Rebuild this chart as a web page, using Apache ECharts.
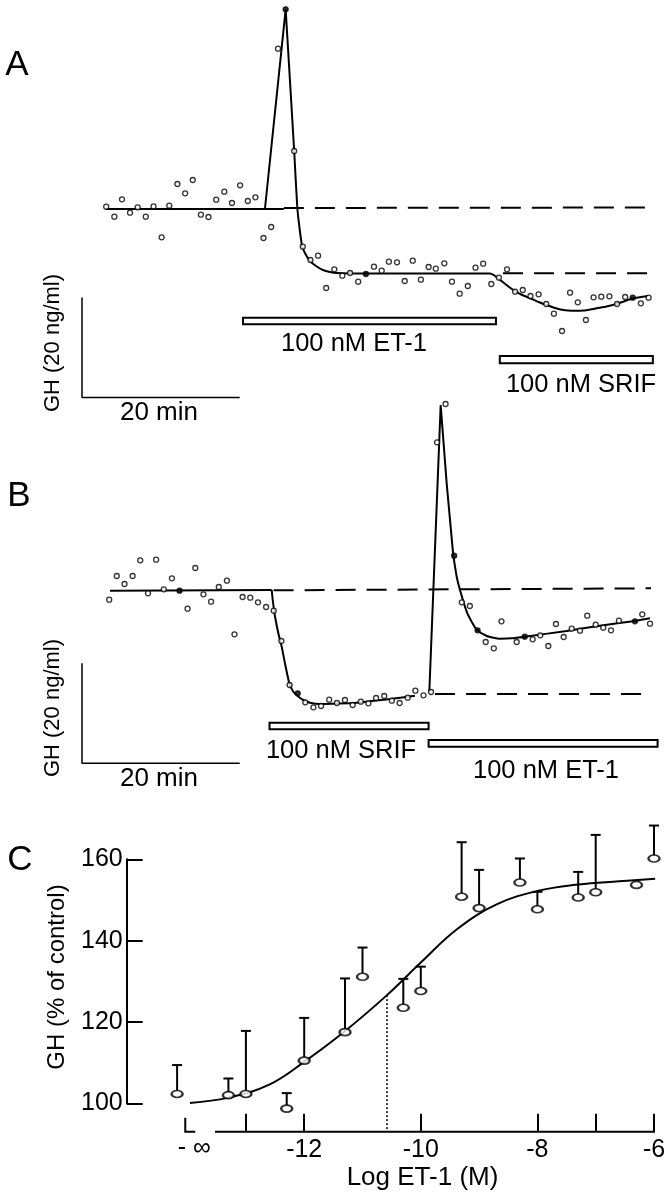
<!DOCTYPE html>
<html><head><meta charset="utf-8">
<script src="https://cdn.jsdelivr.net/npm/echarts@6/dist/echarts.min.js"></script>
<style>html,body{margin:0;padding:0;background:#fff}#main{width:668px;height:1199px}</style>
</head><body><div id="main"></div>
<script>
// ---------------- Panel A (time in min, GH in ng/ml, relative) ----------------
const aTime = [3.07,4.10,5.07,6.09,7.06,8.09,9.07,10.10,11.07,12.10,13.08,14.05,15.08,16.04,17.02,18.05,19.02,20.05,21.03,21.99,23.02,23.99,24.86,25.83,26.91,28.00,28.97,29.94,30.97,32.00,33.02,34.00,35.03,36.01,37.03,38.01,38.92,39.95,40.93,41.95,42.98,43.96,44.87,45.95,46.92,47.90,48.93,49.91,50.88,51.91,52.87,53.90,54.93,55.90,56.88,57.91,58.88,59.85,60.88,61.90,62.88,63.91,64.88,65.86,66.89,67.86,68.89,69.85,70.88,71.86];
const aGH = [38.16,36.16,39.64,36.96,38.04,36.16,38.24,32.04,38.36,42.70,40.84,43.50,36.56,36.10,39.56,41.16,38.90,42.44,39.30,40.04,31.90,34.10,69.76,77.64,49.30,30.16,27.50,28.36,21.90,25.64,24.36,24.90,23.16,24.70,26.16,25.36,27.16,27.04,23.30,27.36,23.56,26.10,25.76,26.84,23.16,20.76,22.30,25.96,26.76,22.70,23.96,25.64,21.16,21.50,20.30,20.64,18.70,16.76,13.30,20.96,19.04,15.50,20.04,20.16,20.24,18.70,20.10,19.96,18.84,19.96];
const aFilled = [23, 33, 67];
const aBaseT = [3.0, 25.6], aBaseV = [37.7, 37.7];
const aRiseT = [23.2, 25.83, 26.91], aRiseV = [37.7, 77.64, 49.3];
const aFitT = [26.91,27.31,27.65,27.94,28.41,28.92,29.68,30.56,31.45,32.34,35.89,51.74,52.40,53.20,54.00,54.70,55.70,56.82,57.90,58.94,60.00,61.04,62.10,63.16,64.20,65.28,66.50,67.81,69.92,71.82];
const aFitV = [49.3,37.9,33.1,30.1,28.5,27.3,26.3,25.5,25.1,24.9,24.8,24.8,24.3,23.3,22.3,21.5,20.6,19.84,19.1,18.5,17.9,17.5,17.35,17.36,17.5,17.84,18.2,18.7,19.84,20.3];
const aDash1T = [25.6, 72.0], aDash1V = [37.9, 38.0];
const aDash2T = [53.4, 72.0], aDash2V = [24.84, 24.84];
const aBarStart = [20.42, 52.99], aBarEnd = [52.5, 72.4], aBarTop = [15.96, 8.3], aBarBottom = [14.64, 6.84];
const aBarLabels = ['100 nM ET-1', '100 nM SRIF'];

// ---------------- Panel B ----------------
const bTime = [3.45,4.41,5.39,6.42,7.39,8.37,9.40,10.37,11.40,12.37,13.39,14.37,15.40,16.37,17.35,18.38,19.34,20.37,21.34,22.32,23.35,24.32,25.29,26.33,27.36,28.32,29.35,30.32,31.35,32.33,33.35,34.33,35.36,36.32,37.30,38.33,39.30,40.28,41.31,42.28,43.31,44.27,45.03,46.11,47.20,48.17,49.19,50.17,51.20,52.23,53.20,55.13,56.15,57.16,58.12,59.14,60.11,61.09,62.11,63.16,64.08,65.15,66.11,67.09,68.10,70.13,71.06,72.04];
const bGH = [32.72,37.46,35.86,37.46,40.60,34.00,40.72,34.80,37.00,34.52,30.92,39.06,33.80,32.32,35.26,36.52,25.80,33.26,33.12,32.20,31.26,30.52,24.46,15.66,14.00,12.20,11.20,11.46,12.72,12.06,12.66,11.66,12.32,12.00,13.06,13.46,12.52,12.06,13.12,14.52,13.60,14.26,64.20,71.86,41.52,32.20,31.46,26.60,24.26,23.00,28.40,24.26,25.32,24.80,25.60,23.46,27.86,25.26,26.92,26.52,29.52,27.72,27.12,26.60,28.52,28.40,29.80,27.92];
const bFilled = [9, 24, 44, 47, 52, 65];
const bBaseT = [3.55, 24.06], bBaseV = [34.5, 34.66];
const bFallT = [24.06,24.19,24.48,24.90,25.33,25.74,26.29,26.80,27.31,28.07,28.92,30.18,32.50,34.84,39.06,42.23];
const bFallV = [34.66,32.66,29.36,26.0,23.32,20.0,16.0,14.32,13.52,12.66,12.12,11.86,11.95,12.12,12.86,13.52];
const bRiseT = [44.05, 45.49, 46.25, 47.09], bRiseV = [14.32, 71.66, 56.0, 41.52];
const bFitT = [47.09,47.52,47.94,48.79,49.42,50.13,51.33,52.20,53.01,54.50,56.15,61.47,65.69,70.13,72.03];
const bFitV = [41.52,37.32,34.66,30.32,28.32,26.6,25.46,25.1,24.92,25.0,25.32,26.46,27.52,28.46,29.0];
const bDash1T = [24.3, 72.2], bDash1V = [34.6, 35.0];
const bDash2T = [44.77, 72.62], bDash2V = [13.86, 13.86];
const bBarStart = [23.78, 43.96], bBarEnd = [43.96, 73.0], bBarTop = [8.12, 4.66], bBarBottom = [6.8, 3.32];
const bBarLabels = ['100 nM SRIF', '100 nM ET-1'];

// scale bars (20 min, 20 ng/ml)
const scaleT = [0, 0, 20], scaleV = [20, 0, 0];
const scaleLabels = ['GH (20 ng/ml)', '20 min'];

// ---------------- Panel C ----------------
const cLogDose = [-14.18,-13.3,-13,-12.3,-12,-11.3,-11,-10.3,-10,-9.3,-9,-8.3,-8,-7.3,-7,-6.3,-6];
const cGH = [102.3,102.0,102.3,98.7,110.5,117.5,131.1,123.5,127.6,150.8,148.0,154.3,147.7,150.6,151.9,153.7,160.2];
const cErrTop = [109.4,106.1,117.8,102.5,121.0,130.7,138.3,130.6,133.6,164.2,157.4,160.2,152.0,156.9,166.0,null,168.3];
const cFitX = [-13.96,-13.30,-12.60,-12.00,-11.33,-10.58,-10.00,-9.38,-8.70,-8.00,-7.30,-6.60,-5.98];
const cFitY = [100.1,101.4,104.6,110.2,117.4,126.6,134.6,142.8,148.9,152.2,153.8,154.6,155.2];
const ec50X = -10.58, ec50Y = 126.6;
const cTickValues = [-13,-12,-10,-8,-7,-6];
const cLabelValues = [-12,-10,-8,-6];
const cNegInfLabel = '- ∞';
const cAxisStart = -13.53, cNegInfMark = -14.04;
const cXTitle = 'Log ET-1 (M)', cYTitle = 'GH (% of control)';

// ---------------- build ----------------
const FONT = '"Liberation Sans", Arial, Helvetica, sans-serif';
const chart = echarts.init(document.getElementById('main'));
const pts = (ts, vs) => ts.map((t, i) => [t, vs[i]]);

function line(gi, ts, vs, smooth, dashed, width) {
  return {type:'line', xAxisIndex:gi, yAxisIndex:gi, data:pts(ts, vs), symbol:'none',
    smooth: smooth || false, clip:false, silent:true, z:2,
    lineStyle:{color:'#000', width: width || 2, type: dashed ? [20, 11] : 'solid'}};
}
function dots(gi, ts, vs, filled) {
  return {type:'scatter', xAxisIndex:gi, yAxisIndex:gi, clip:false, silent:true, z:5,
    symbol:'circle', symbolSize:5,
    itemStyle:{color:'#fff', borderColor:'#000', borderWidth:1.3},
    data: ts.map((t, i) => filled.indexOf(i) >= 0 ? {value:[t, vs[i]], itemStyle:{color:'#000'}} : [t, vs[i]])};
}
function bars(gi, s, e, top, bot) {
  return {type:'custom', xAxisIndex:gi, yAxisIndex:gi, clip:false, silent:true, z:3,
    data: s.map((v, i) => [v, e[i], top[i], bot[i]]),
    encode:{x:[0,1], y:[2,3]},
    renderItem: function (params, api) {
      const p0 = api.coord([api.value(0), api.value(2)]);
      const p1 = api.coord([api.value(1), api.value(3)]);
      return {type:'rect', shape:{x:p0[0], y:p0[1], width:p1[0]-p0[0], height:p1[1]-p0[1]},
        style:{fill:'#fff', stroke:'#000', lineWidth:2}};
    }};
}

const series = [
  // A
  line(0, aBaseT, aBaseV), line(0, aRiseT, aRiseV), line(0, aFitT, aFitV, 0.15),
  line(0, aDash1T, aDash1V, false, true), line(0, aDash2T, aDash2V, false, true),
  line(0, scaleT, scaleV, false, false, 1.5),
  bars(0, aBarStart, aBarEnd, aBarTop, aBarBottom),
  dots(0, aTime, aGH, aFilled),
  // B
  line(1, bBaseT, bBaseV), line(1, bFallT, bFallV, 0.15), line(1, bRiseT, bRiseV), line(1, bFitT, bFitV, 0.15),
  line(1, bDash1T, bDash1V, false, true), line(1, bDash2T, bDash2V, false, true),
  line(1, scaleT, scaleV, false, false, 1.5),
  bars(1, bBarStart, bBarEnd, bBarTop, bBarBottom),
  dots(1, bTime, bGH, bFilled),
  // C
  line(2, cFitX, cFitY, 0.4),
  {type:'line', xAxisIndex:2, yAxisIndex:2, data:[[ec50X, ec50Y],[ec50X, 93.0]], symbol:'none', clip:false, silent:true,
    lineStyle:{color:'#000', width:1.5, type:[2,2]}},
  {type:'custom', xAxisIndex:2, yAxisIndex:2, clip:false, silent:true, z:3,
    data: cLogDose.map((x, i) => [x, cGH[i], cErrTop[i]]).filter(d => d[2] != null),
    encode:{x:0, y:[1,2]},
    renderItem: function (params, api) {
      const p = api.coord([api.value(0), api.value(1)]);
      const q = api.coord([api.value(0), api.value(2)]);
      return {type:'group', children:[
        {type:'line', shape:{x1:p[0], y1:p[1]-3, x2:q[0], y2:q[1]}, style:{stroke:'#000', lineWidth:2}},
        {type:'line', shape:{x1:q[0]-5, y1:q[1], x2:q[0]+5, y2:q[1]}, style:{stroke:'#000', lineWidth:2}}
      ]};
    }},
  {type:'scatter', xAxisIndex:2, yAxisIndex:2, clip:false, silent:true, z:6, symbol:'circle', symbolSize:[11,7],
    itemStyle:{color:'#fff', borderColor:'#000', borderWidth:2}, data: pts(cLogDose, cGH)}
];

const hiddenX = gi => ({gridIndex:gi, type:'value', min:0, max:72, show:false});
const hiddenY = gi => ({gridIndex:gi, type:'value', min:0, max:78, show:false});

const option = {
  animation:false,
  backgroundColor:'#fff',
  grid:[
    {left:82, top:7.5, width:567.7, height:390, containLabel:false, outerBoundsMode:'none'},
    {left:82, top:373.3, width:567.7, height:390, containLabel:false, outerBoundsMode:'none'},
    {left:129.3, top:859.3, width:524.7, height:244, containLabel:false, outerBoundsMode:'none'}
  ],
  xAxis:[hiddenX(0), hiddenX(1), {
    gridIndex:2, type:'value', min:-15, max:-6, offset:28.4,
    axisLine:{show:false}, splitLine:{show:false},
    axisTick:{show:true, inside:true, length:18, lineStyle:{color:'#000', width:2}, customValues:cTickValues},
    axisLabel:{show:true, customValues:cLabelValues, color:'#000', fontSize:25, fontFamily:FONT, margin:6,
      formatter: v => String(v)}
  }],
  yAxis:[hiddenY(0), hiddenY(1), {
    gridIndex:2, type:'value', min:100, max:160, interval:20, offset:2.6,
    axisLine:{show:true, lineStyle:{color:'#000', width:2}},
    axisTick:{show:true, inside:true, length:16, lineStyle:{color:'#000', width:2}},
    axisLabel:{color:'#000', fontSize:25, fontFamily:FONT, margin:4},
    splitLine:{show:false}
  }],
  series: series
};
chart.setOption(option);

// text labels and partial x-axis line of panel C
function txt(t, x, y, size, rot) {
  return {type:'text', x:x, y:y, rotation: rot ? Math.PI/2 : 0, silent:true,
    style:{text:t, font: size + 'px ' + FONT, fill:'#000', textAlign:'center', textVerticalAlign:'middle', align:'center', verticalAlign:'middle'}};
}
const pa = chart.convertToPixel({gridIndex:2}, [cAxisStart, 100]);
const pb = chart.convertToPixel({gridIndex:2}, [-6, 100]);
const pn = chart.convertToPixel({gridIndex:2}, [cNegInfMark, 100]);
const axisY = pa[1] + 28.4;
const graphics = [
  txt('A', 17, 65, 35), txt('B', 19, 496.5, 35), txt('C', 20, 860, 35),
  txt(scaleLabels[0], 53, 343, 22, true), txt(scaleLabels[0], 53, 708, 22, true),
  txt(scaleLabels[1], 159, 413, 26), txt(scaleLabels[1], 159, 779, 26),
  txt(aBarLabels[0], 354, 344, 25.5), txt(aBarLabels[1], 581, 385, 25.5),
  txt(bBarLabels[0], 341, 751, 25.5), txt(bBarLabels[1], 546, 770.5, 25.5),
  txt(cYTitle, 57, 977, 24, true),
  txt(cNegInfLabel, pn[0] + 9, 1148, 25),
  txt(cXTitle, 422.5, 1178, 26),
  {type:'line', silent:true, shape:{x1:pa[0], y1:axisY, x2:pb[0]+1, y2:axisY}, style:{stroke:'#000', lineWidth:2}},
  {type:'polyline', silent:true, shape:{points:[[pn[0], axisY-14],[pn[0], axisY],[pn[0]+10, axisY]]}, style:{stroke:'#000', lineWidth:2, fill:null}}
];
chart.setOption({graphic: graphics});
</script>
</body></html>
